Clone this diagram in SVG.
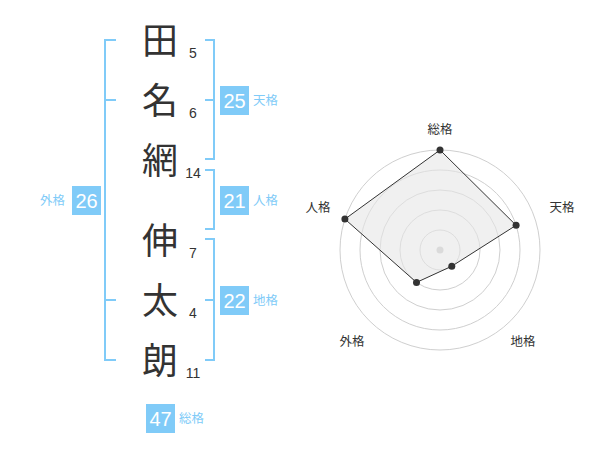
<svg xmlns="http://www.w3.org/2000/svg" width="600" height="470" viewBox="0 0 600 470">
<style>
.kanji{font-family:"Noto Sans CJK JP","Noto Sans CJK SC",sans-serif;font-size:36px;fill:#333;text-anchor:middle}
.num{font-family:"Liberation Sans",Arial,sans-serif;font-size:14px;fill:#333;text-anchor:middle}
.box{fill:#80cbf8}
.boxt{font-family:"Liberation Sans",Arial,sans-serif;font-size:20px;fill:#fff;text-anchor:middle}
.lab{font-family:"Noto Sans CJK JP",sans-serif;font-size:12.5px;fill:#80cbf8}
.br{fill:none;stroke:#80cbf8;stroke-width:2}
.ring{fill:none;stroke:#cfcfcf;stroke-width:1}
.rl{font-family:"Noto Sans CJK JP",sans-serif;font-size:12.5px;fill:#333;text-anchor:middle}
.pt{fill:#333}
</style>
<rect width="600" height="470" fill="#fff"/>
<g id="brackets">
<path class="br" d="M116,40H105V360H116M105,100H116M105,300H116"/>
<path class="br" d="M205,40H214V159H205M205,100H214"/>
<path class="br" d="M205,170H214V229H205"/>
<path class="br" d="M205,239H214V360H205M205,300H214"/>
</g>
<g id="chars">
<g id="c1"><text class="kanji" x="160" y="54">田</text><text class="num" x="193" y="58">5</text></g>
<g id="c2"><text class="kanji" x="160" y="114">名</text><text class="num" x="193" y="118">6</text></g>
<g id="c3"><text class="kanji" x="160" y="174">網</text><text class="num" x="193" y="178">14</text></g>
<g id="c4"><text class="kanji" x="160" y="254">伸</text><text class="num" x="193" y="258">7</text></g>
<g id="c5"><text class="kanji" x="160" y="314">太</text><text class="num" x="193" y="318">4</text></g>
<g id="c6"><text class="kanji" x="160" y="374">朗</text><text class="num" x="193" y="378">11</text></g>
</g>
<g id="gaikaku"><rect class="box" x="72" y="186" width="29" height="29"/><text class="boxt" x="86.5" y="208">26</text><text class="lab" x="65" y="205" text-anchor="end">外格</text></g>
<g id="tenkaku"><rect class="box" x="220" y="86" width="29" height="29"/><text class="boxt" x="234.5" y="108">25</text><text class="lab" x="253" y="105">天格</text></g>
<g id="jinkaku"><rect class="box" x="220" y="186" width="29" height="29"/><text class="boxt" x="234.5" y="208">21</text><text class="lab" x="253" y="205">人格</text></g>
<g id="chikaku"><rect class="box" x="220" y="286" width="29" height="29"/><text class="boxt" x="234.5" y="308">22</text><text class="lab" x="253" y="305">地格</text></g>
<g id="soukaku"><rect class="box" x="146" y="404" width="29" height="29"/><text class="boxt" x="160.5" y="426">47</text><text class="lab" x="179" y="423">総格</text></g>
<g id="radar">
<circle class="ring" cx="440" cy="250" r="20"/>
<circle class="ring" cx="440" cy="250" r="40"/>
<circle class="ring" cx="440" cy="250" r="60"/>
<circle class="ring" cx="440" cy="250" r="80"/>
<circle class="ring" cx="440" cy="250" r="100"/>
<circle cx="440" cy="250" r="3.5" fill="#c8c8c8"/>
<polygon points="440,150 516.1,225.3 451.8,266.2 416.5,282.4 344.9,219.1" fill="#e6e6e6" fill-opacity="0.6" stroke="#333" stroke-width="1"/>
<circle class="pt" cx="440" cy="150" r="3.5"/>
<circle class="pt" cx="516.1" cy="225.3" r="3.5"/>
<circle class="pt" cx="451.8" cy="266.2" r="3.5"/>
<circle class="pt" cx="416.5" cy="282.4" r="3.5"/>
<circle class="pt" cx="344.9" cy="219.1" r="3.5"/>
<text class="rl" x="440" y="134">総格</text>
<text class="rl" x="562" y="212">天格</text>
<text class="rl" x="523" y="346">地格</text>
<text class="rl" x="352" y="346">外格</text>
<text class="rl" x="318" y="212">人格</text>
</g>
</svg>
